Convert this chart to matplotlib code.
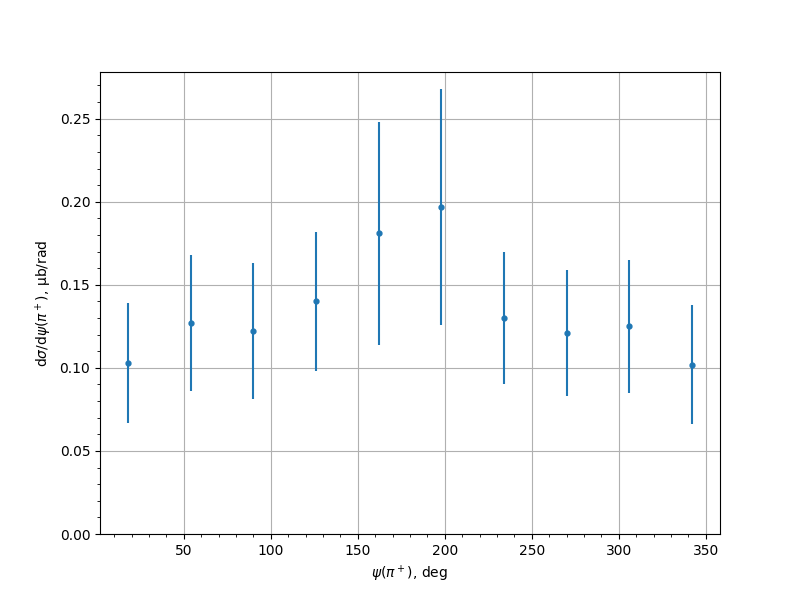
import matplotlib
matplotlib.use("Agg")
import matplotlib.pyplot as plt
from matplotlib.ticker import AutoMinorLocator

psi = [18, 54, 90, 126, 162, 198, 234, 270, 306, 342]
dsig = [0.103, 0.127, 0.122, 0.140, 0.181, 0.197, 0.130, 0.121, 0.125, 0.102]
err = [0.036, 0.041, 0.041, 0.042, 0.067, 0.071, 0.040, 0.038, 0.040, 0.036]

fig, ax = plt.subplots(figsize=(8, 6), dpi=100)
ax.errorbar(psi, dsig, yerr=err, fmt='o', markersize=3.5, color='#1f77b4')
ax.set_ylim(bottom=0)
ax.grid(True)
ax.xaxis.set_minor_locator(AutoMinorLocator(5))
ax.yaxis.set_minor_locator(AutoMinorLocator(5))
ax.set_xlabel(r'$\psi(\pi^+)$, deg')
ax.set_ylabel(r'd$\sigma$/d$\psi(\pi^+)$, μb/rad')
fig.savefig('out.png', dpi=100)
